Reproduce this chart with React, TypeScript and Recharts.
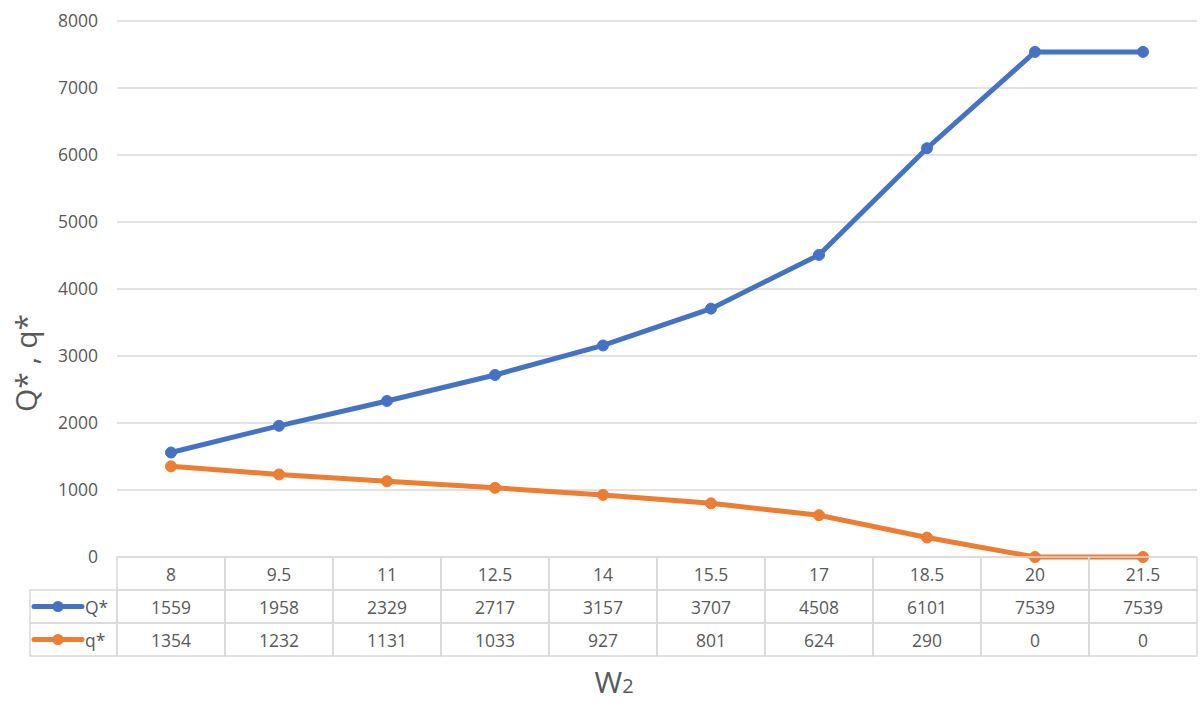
import { LineChart, Line, XAxis, YAxis, CartesianGrid } from 'recharts'

// W2 steps along the category axis
const wLabels = ['8', '9.5', '11', '12.5', '14', '15.5', '17', '18.5', '20', '21.5']
const bigQ = [1559, 1958, 2329, 2717, 3157, 3707, 4508, 6101, 7539, 7539]
const smallQ = [1354, 1232, 1131, 1033, 927, 801, 624, 290, 0, 0]
const yTicks = [0, 1000, 2000, 3000, 4000, 5000, 6000, 7000, 8000]

const series = [
  { key: 'Q', name: 'Q*', color: '#4472C4', values: bigQ },
  { key: 'q', name: 'q*', color: '#ED7D31', values: smallQ },
]

const data = wLabels.map((w, i) => ({ w, Q: bigQ[i], q: smallQ[i] }))

const FONT = '"Open Sans", sans-serif'
const TEXT = '#595959'
const GRID = '#d9d9d9'
const COL_W = 108
const ROW_H = 33
const LEGEND_X = 30

if (typeof document !== 'undefined') document.body.style.margin = '0'

// each x tick renders one column of the data table under the plot
function TableColumn(props: any) {
  const { x, y, payload } = props
  const i: number = payload?.index ?? props.index ?? 0
  const left = x - COL_W / 2
  const cells = [payload.value, String(bigQ[i]), String(smallQ[i])]
  return (
    <g>
      {cells.map((txt, r) => (
        <g key={r}>
          <rect x={left} y={y + r * ROW_H} width={COL_W} height={ROW_H} fill="none" stroke={GRID} strokeWidth={1.5} />
          <text
            x={x}
            y={y + r * ROW_H + ROW_H / 2}
            textAnchor="middle"
            dominantBaseline="central"
            fill={TEXT}
            fontSize={17.5}
            fontFamily={FONT}
          >
            {txt}
          </text>
        </g>
      ))}
      {i === 0 &&
        series.map((s, r) => {
          const top = y + (r + 1) * ROW_H
          const mid = top + ROW_H / 2
          return (
            <g key={s.key}>
              <rect x={LEGEND_X} y={top} width={left - LEGEND_X} height={ROW_H} fill="none" stroke={GRID} strokeWidth={1.5} />
              <line x1={LEGEND_X + 4} x2={LEGEND_X + 52} y1={mid} y2={mid} stroke={s.color} strokeWidth={5} strokeLinecap="round" />
              <circle cx={LEGEND_X + 28} cy={mid} r={5.5} fill={s.color} />
              <text x={LEGEND_X + 55} y={mid} dominantBaseline="central" fill={TEXT} fontSize={17.5} fontFamily={FONT}>
                {s.name}
              </text>
            </g>
          )
        })}
    </g>
  )
}

export default function App() {
  return (
    <LineChart width={1204} height={704} data={data} margin={{ top: 21, right: 7, bottom: 0, left: 0 }}>
      <CartesianGrid vertical={false} stroke={GRID} strokeWidth={1.5} />
      <XAxis
        dataKey="w"
        height={147}
        padding={{ left: COL_W / 2, right: COL_W / 2 }}
        axisLine={false}
        tickLine={false}
        tickSize={0}
        tickMargin={0}
        interval={0}
        tick={<TableColumn />}
      />
      <YAxis
        width={117}
        domain={[0, 8000]}
        ticks={yTicks}
        axisLine={false}
        tickLine={false}
        tickMargin={13}
        tick={{ fill: TEXT, fontSize: 17.5, fontFamily: FONT }}
      />
      {series.map((s) => (
        <Line
          key={s.key}
          dataKey={s.key}
          name={s.name}
          stroke={s.color}
          strokeWidth={5}
          dot={{ r: 5.5, fill: s.color, stroke: s.color, strokeWidth: 1 }}
          isAnimationActive={false}
        />
      ))}
      <text
        transform="translate(37 363) rotate(-90)"
        textAnchor="middle"
        fill={TEXT}
        fontSize={30}
        fontFamily={FONT}
      >
        Q* , q*
      </text>
      <text x={614} y={693} textAnchor="middle" fill={TEXT} fontSize={30} fontFamily={FONT}>
        W<tspan fontSize={20}>2</tspan>
      </text>
    </LineChart>
  )
}
